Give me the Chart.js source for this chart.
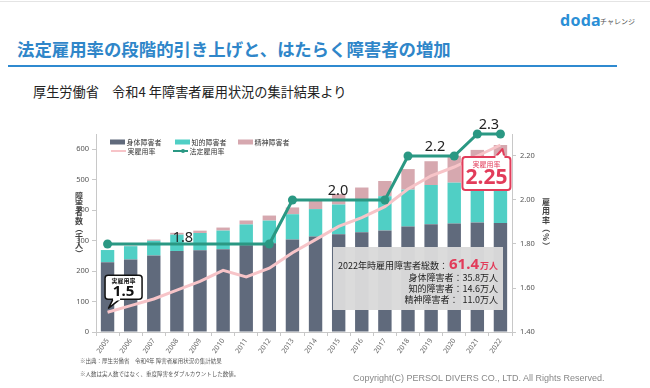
<!DOCTYPE html>
<html lang="ja">
<head>
<meta charset="utf-8">
<script src="https://cdn.jsdelivr.net/npm/chart.js@4"></script>
<style>
  html, body { margin: 0; padding: 0; background: #fff; }
  body { width: 650px; height: 388px; position: relative; overflow: hidden;
         font-family: "Noto Sans CJK JP", "Noto Sans", sans-serif; }
  .abs { position: absolute; white-space: nowrap; }
  #topline { left: 0; top: 1px; width: 650px; height: 1px; background: #e4e4e4; }
  #logo { left: 560px; top: 9px; font: bold 16px "Noto Sans", sans-serif; color: #2b8fd6; letter-spacing: 0.3px; }
  #logo2 { left: 600px; top: 16px; font-size: 7px; color: #555; }
  #title { left: 17px; top: 36px; font-size: 17.4px; font-weight: bold; color: #2f86c9; }
  #rule { left: 8px; top: 65px; width: 609px; height: 2px; background: #2f8ad0; }
  #sub { left: 33px; top: 82px; font-size: 13.2px; color: #222; }
  #note1 { left: 80px; top: 357px; font-size: 5.5px; color: #555; }
  #note2 { left: 80px; top: 370px; font-size: 5.5px; color: #555; }
  #copy { left: 353px; top: 373px; font: 9px "Liberation Sans", Arial, sans-serif; color: #888; }
  canvas { position: absolute; left: 0; top: 0; }
</style>
</head>
<body>
<div class="abs" id="topline"></div>
<div class="abs" id="logo">doda</div>
<div class="abs" id="logo2">チャレンジ</div>
<div class="abs" id="title">法定雇用率の段階的引き上げと、はたらく障害者の増加</div>
<div class="abs" id="rule"></div>
<div class="abs" id="sub">厚生労働省　令和4 年障害者雇用状況の集計結果より</div>
<canvas id="chart" width="650" height="388"></canvas>
<div class="abs" id="note1">※出典：厚生労働省　令和4年 障害者雇用状況の集計結果</div>
<div class="abs" id="note2">※人数は実人数ではなく、重度障害をダブルカウントした数値。</div>
<div class="abs" id="copy">Copyright(C) PERSOL DIVERS CO., LTD. All Rights Reserved.</div>

<script>
/* ── Datos ─────────────────────────────────────────────────────────────── */
const years   = ['2005','2006','2007','2008','2009','2010','2011','2012','2013',
                 '2014','2015','2016','2017','2018','2019','2020','2021','2022'];
// 千人
const shintai = [229.1, 238.0, 251.3, 266.0, 268.3, 271.8, 284.4, 291.0, 303.8,
                 313.3, 320.8, 327.6, 333.5, 346.2, 354.1, 356.1, 359.7, 357.8];
const chiteki = [40.0, 43.7, 48.1, 53.6, 56.8, 61.1, 68.7, 74.7, 82.9,
                 90.2, 97.7, 104.7, 112.3, 121.2, 128.4, 134.2, 140.7, 146.4];
const seishin = [0, 1.9, 4.0, 6.0, 7.7, 10.0, 13.0, 16.6, 22.2,
                 27.7, 34.6, 42.0, 50.0, 67.4, 78.1, 88.0, 97.4, 109.7];
// %
const jitsu   = [1.49, 1.52, 1.55, 1.59, 1.63, 1.68, 1.65, 1.69, 1.76,
                 1.82, 1.88, 1.92, 1.97, 2.05, 2.11, 2.15, 2.20, 2.25];
const houtei  = [1.8, 1.8, 1.8, 1.8, 1.8, 1.8, 1.8, 1.8, 2.0,
                 2.0, 2.0, 2.0, 2.0, 2.2, 2.2, 2.2, 2.3, 2.3];
const leftTicks  = [0, 100, 200, 300, 400, 500, 600];
const rightTicks = [1.4, 1.6, 1.8, 2.0, 2.2];

// rótulos del 法定雇用率 (índice fraccional, valor, texto)
const houteiLabels = [[3.26, 1.8, '1.8'], [9.97, 2.0, '2.0'], [14.17, 2.2, '2.2'], [16.5, 2.3, '2.3']];

const C_SHINTAI = '#606a7c';
const C_CHITEKI = '#50cfc5';
const C_SEISHIN = '#d6a8af';
const C_JITSU   = '#f7c4c8';
const C_HOUTEI  = '#2a9883';
const C_RED     = '#e23c5a';
const JP = '"Noto Sans CJK JP", "Noto Sans", sans-serif';

// marcadores sólo donde cambia la tasa legal
const houteiPts = houtei.map((v, i) =>
  (i === 0 || i === houtei.length - 1 || v !== houtei[i - 1] || v !== houtei[i + 1]) ? 4.5 : 0);

/* ── Helpers ───────────────────────────────────────────────────────────── */
function roundRect(ctx, x, y, w, h, r) {
  ctx.beginPath();
  ctx.moveTo(x + r, y);
  ctx.lineTo(x + w - r, y); ctx.quadraticCurveTo(x + w, y, x + w, y + r);
  ctx.lineTo(x + w, y + h - r); ctx.quadraticCurveTo(x + w, y + h, x + w - r, y + h);
  ctx.lineTo(x + r, y + h); ctx.quadraticCurveTo(x, y + h, x, y + h - r);
  ctx.lineTo(x, y + r); ctx.quadraticCurveTo(x, y, x + r, y);
  ctx.closePath();
}

function callout(ctx, box, tail, stroke, lw) {
  ctx.save();
  ctx.fillStyle = '#fff';
  ctx.strokeStyle = stroke;
  ctx.lineWidth = lw;
  ctx.lineJoin = 'round';
  roundRect(ctx, box.x, box.y, box.w, box.h, 3);
  ctx.fill(); ctx.stroke();
  ctx.beginPath();
  ctx.moveTo(tail[0][0], tail[0][1]);
  ctx.lineTo(tail[1][0], tail[1][1]);
  ctx.lineTo(tail[2][0], tail[2][1]);
  ctx.fill(); ctx.stroke();
  ctx.beginPath();
  ctx.moveTo(tail[0][0], tail[0][1]);
  ctx.lineTo(tail[2][0], tail[2][1]);
  ctx.lineWidth = lw + 1;
  ctx.strokeStyle = '#fff';
  ctx.stroke();
  ctx.restore();
}

// texto vertical, carácter por carácter (paréntesis girados)
function verticalText(ctx, text, x, y, step, font) {
  ctx.save();
  ctx.font = font;
  ctx.fillStyle = '#444';
  ctx.textAlign = 'center';
  ctx.textBaseline = 'middle';
  [...text].forEach((ch, i) => {
    const cy = y + i * step;
    if ('（）()%'.includes(ch)) {
      ctx.save();
      ctx.translate(x, cy);
      ctx.rotate(Math.PI / 2);
      ctx.fillText(ch, 0, 0);
      ctx.restore();
    } else {
      ctx.fillText(ch, x, cy);
    }
  });
  ctx.restore();
}

/* ── Plugin de anotaciones ─────────────────────────────────────────────── */
const overlay = {
  id: 'overlay',
  afterDraw(chart) {
    const { ctx, scales } = chart;
    const xs = scales.x, yr = scales.yR;

    // títulos de ejes
    verticalText(ctx, '障害者数（千人）', 79, 196, 8.2, 'bold 8px ' + JP);
    verticalText(ctx, '雇用率（%）', 546, 202, 8.8, 'bold 8px ' + JP);

    // leyenda
    ctx.save();
    ctx.font = '7px ' + JP;
    ctx.textBaseline = 'middle';
    const leg = [
      [110, 142, 'box', C_SHINTAI, '身体障害者'],
      [175, 142, 'box', C_CHITEKI, '知的障害者'],
      [238, 142, 'box', C_SEISHIN, '精神障害者'],
      [111, 151, 'line', C_JITSU, '実雇用率'],
      [173, 151, 'dot', C_HOUTEI, '法定雇用率'],
    ];
    leg.forEach(([x, y, kind, col, txt]) => {
      if (kind === 'box') {
        ctx.fillStyle = col; ctx.fillRect(x, y - 2.5, 15, 5);
      } else {
        ctx.strokeStyle = col; ctx.lineWidth = 2;
        ctx.beginPath(); ctx.moveTo(x, y); ctx.lineTo(x + 15, y); ctx.stroke();
        if (kind === 'dot') {
          ctx.fillStyle = col; ctx.beginPath(); ctx.arc(x + 10, y, 2, 0, Math.PI * 2); ctx.fill();
        }
      }
      ctx.fillStyle = '#333';
      ctx.fillText(txt, x + 16.5, y + 0.5);
    });
    ctx.restore();

    // rótulos del 法定雇用率
    ctx.save();
    ctx.font = '14.5px "Noto Sans", sans-serif';
    ctx.fillStyle = '#222';
    ctx.textAlign = 'center';
    ctx.textBaseline = 'alphabetic';
    houteiLabels.forEach(([i, v, t]) => {
      const x = xs.left + (i + 0.5) * (xs.width / years.length);
      ctx.fillText(t, x, yr.getPixelForValue(v) - (v === 1.8 ? 2 : 5));
    });
    ctx.restore();

    // globo 1.5
    const p0x = xs.getPixelForValue(0), p0y = yr.getPixelForValue(jitsu[0]);
    const b1 = { x: p0x - 2.5, y: p0y - 37, w: 37, h: 24 };
    callout(ctx, b1, [[b1.x + 8, b1.y + b1.h], [p0x + 1, p0y - 4], [b1.x + 15, b1.y + b1.h]], '#111', 1.5);
    ctx.save();
    ctx.fillStyle = '#111';
    ctx.textAlign = 'center';
    ctx.textBaseline = 'middle';
    ctx.font = 'bold 6px ' + JP;
    ctx.fillText('実雇用率', b1.x + b1.w / 2, b1.y + 6);
    ctx.font = 'bold 15px "Noto Sans", sans-serif';
    ctx.fillText('1.5', b1.x + b1.w / 2, b1.y + 16.5);
    ctx.restore();

    // globo 2.25
    const n = years.length - 1;
    const pnx = xs.getPixelForValue(n), pny = yr.getPixelForValue(jitsu[n]);
    const b2 = { x: pnx - 38, y: pny + 12, w: 48, h: 33 };
    callout(ctx, b2, [[b2.x + 33, b2.y], [pnx + 2, pny + 4], [b2.x + 42, b2.y]], C_RED, 2);
    ctx.save();
    ctx.fillStyle = C_RED;
    ctx.textAlign = 'center';
    ctx.textBaseline = 'middle';
    ctx.font = '7px ' + JP;
    ctx.fillText('実雇用率', b2.x + b2.w / 2, b2.y + 7);
    ctx.font = 'bold 21px "Noto Sans", sans-serif';
    ctx.fillText('2.25', b2.x + b2.w / 2, b2.y + 21.5);
    ctx.restore();

    // recuadro de totales 2022
    const tot = shintai[n] + chiteki[n] + seishin[n];
    const man = v => (v / 10).toFixed(1);
    ctx.save();
    ctx.fillStyle = 'rgba(218,218,218,0.97)';
    ctx.fillRect(333, 247, 170, 63);
    ctx.textAlign = 'right';
    ctx.textBaseline = 'alphabetic';
    const rx = 498;
    ctx.font = 'bold 9px ' + JP;
    ctx.fillStyle = C_RED;
    ctx.fillText('万人', rx, 269);
    const wMan = ctx.measureText('万人').width;
    ctx.font = 'bold 15px "Noto Sans", sans-serif';
    ctx.fillText(man(tot), rx - wMan - 1, 269);
    const wTot = ctx.measureText(man(tot)).width;
    ctx.font = '9px ' + JP;
    ctx.fillStyle = '#222';
    ctx.fillText('2022年時雇用障害者総数：', rx - wMan - wTot - 2, 269);
    ctx.fillText('身体障害者：' + man(shintai[n]) + '万人', rx, 281);
    ctx.fillText('知的障害者：' + man(chiteki[n]) + '万人', rx, 292);
    ctx.fillText('精神障害者：  ' + man(seishin[n]) + '万人', rx, 303);
    ctx.restore();
  }
};

/* ── Gráfico ───────────────────────────────────────────────────────────── */
const tickFont = { family: '"Noto Sans", sans-serif', size: 7.5 };

new Chart(document.getElementById('chart').getContext('2d'), {
  type: 'bar',
  data: {
    labels: years,
    datasets: [
      { type: 'line', label: '法定雇用率', data: houtei, yAxisID: 'yR',
        borderColor: C_HOUTEI, backgroundColor: C_HOUTEI, borderWidth: 3,
        pointRadius: houteiPts, pointBorderWidth: 0, tension: 0, clip: false, order: 0 },
      { type: 'line', label: '実雇用率', data: jitsu, yAxisID: 'yR',
        borderColor: C_JITSU, borderWidth: 3, pointRadius: 0, tension: 0, order: 1 },
      { label: '身体障害者', data: shintai, backgroundColor: C_SHINTAI, yAxisID: 'y', order: 2 },
      { label: '知的障害者', data: chiteki, backgroundColor: C_CHITEKI, yAxisID: 'y', order: 2 },
      { label: '精神障害者', data: seishin, backgroundColor: C_SEISHIN, yAxisID: 'y', order: 2 },
    ]
  },
  options: {
    responsive: false,
    animation: false,
    devicePixelRatio: 1,
    layout: { padding: { left: 60, right: 102, top: 134, bottom: 16 } },
    datasets: { bar: { barPercentage: 0.58, categoryPercentage: 1 } },
    plugins: { legend: { display: false }, tooltip: { enabled: false } },
    scales: {
      x: {
        stacked: true,
        offset: true,
        grid: { drawOnChartArea: false, tickLength: 4, color: '#c8c8c8' },
        border: { color: '#c8c8c8' },
        ticks: { autoSkip: false, minRotation: 55, maxRotation: 55, padding: 1,
                 font: { family: '"Noto Sans", sans-serif', size: 7 }, color: '#666' },
        afterFit: s => { s.height = 40; }
      },
      y: {
        stacked: true, position: 'left', min: 0, max: 650,
        afterBuildTicks: s => { s.ticks = leftTicks.map(v => ({ value: v })); },
        grid: { drawOnChartArea: false, tickLength: 4, color: '#c8c8c8' },
        border: { color: '#c8c8c8' },
        ticks: { padding: 3, font: tickFont, color: '#555' },
        afterFit: s => { s.width = 36; }
      },
      yR: {
        position: 'right', min: 1.4, max: 2.3,
        afterBuildTicks: s => { s.ticks = rightTicks.map(v => ({ value: v })); },
        grid: { drawOnChartArea: false, tickLength: 4, color: '#c8c8c8' },
        border: { color: '#c8c8c8' },
        ticks: { padding: 4, font: tickFont, color: '#555', callback: v => v.toFixed(2) },
        afterFit: s => { s.width = 36; }
      }
    }
  },
  plugins: [overlay]
});
</script>
</body>
</html>
